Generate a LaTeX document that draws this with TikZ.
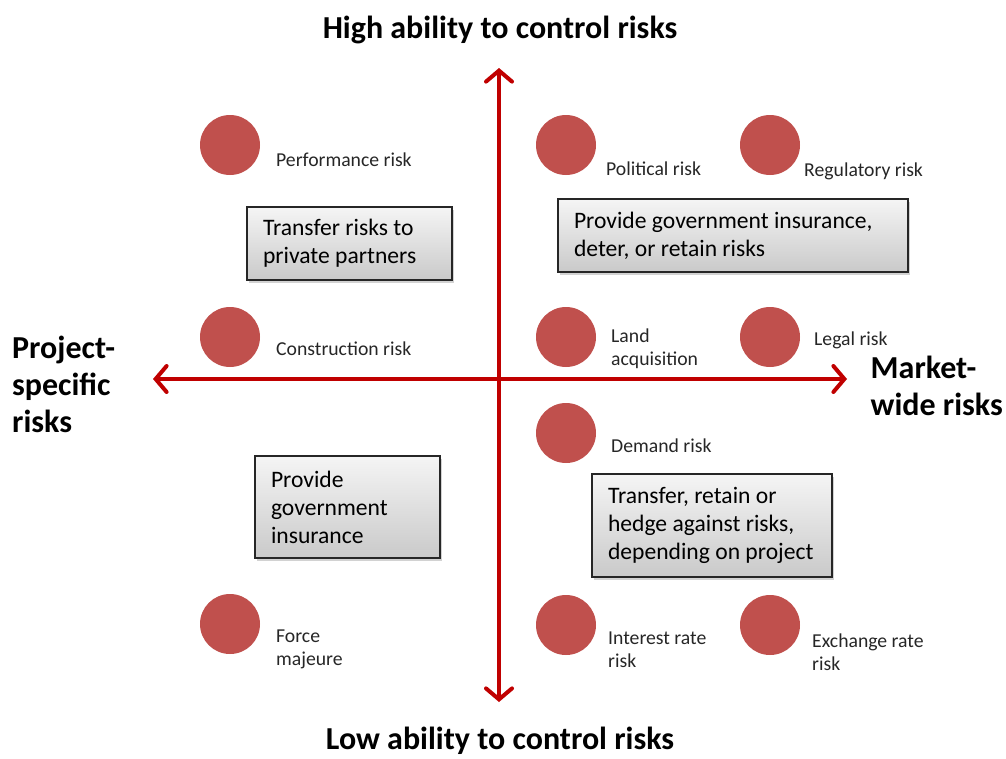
\documentclass[tikz,border=0pt]{standalone}
\usepackage{fontspec}
\setmainfont{Carlito}
\usetikzlibrary{arrows.meta,shadows,positioning}
\definecolor{AxisRed}{RGB}{192,0,0}
\definecolor{DotRed}{RGB}{192,80,77}
\definecolor{LabelGray}{RGB}{38,38,38}

\begin{document}
\begin{tikzpicture}[x=1pt, y=-1pt,
	dot/.style={circle, fill=DotRed, minimum size=60pt, inner sep=0pt},
	risklabel/.style={anchor=base west, inner sep=0pt, align=left, text=LabelGray, font=\fontsize{19.7}{23}\selectfont},
	strategy/.style={draw=black!85, line width=1.5pt, top color=gray!8, bottom color=gray!42,
		drop shadow={shadow xshift=2pt, shadow yshift=-3pt, fill=gray!70, opacity=0.5},
		align=flush left, inner xsep=16pt, inner ysep=0pt, font=\fontsize{23.6}{28}\selectfont},
	heading/.style={font=\bfseries\fontsize{32}{37}\selectfont, inner sep=0pt, align=left},
	axis/.style={AxisRed, line width=4pt, {Straight Barb[length=11pt, width=26pt, line cap=round]}-{Straight Barb[length=11pt, width=26pt, line cap=round]}}
	]
	\useasboundingbox (0,0) rectangle (1006,758);

	% axes
	\coordinate (ytop) at (499,68);
	\coordinate (ybot) at (499,702);
	\coordinate (xleft) at (153,379);
	\coordinate (xright) at (847,379);
	\draw[axis] (ybot) -- (ytop);
	\draw[axis] (xleft) -- (xright);

	% headings (multi-line: base is the last line)
	\node[heading, anchor=base] (high) at (500,38) {High ability to control risks};
	\node[heading, anchor=base] (low) at (500,749) {Low ability to control risks};
	\node[heading, anchor=base west] (project) at (12,432) {Project-\\specific\\risks};
	\node[heading, anchor=base east] (market) at (1003,415) {Market-\\wide risks};

	% risks
	\node[dot] (perf) at (230,145) {};
	\node[risklabel] (perflabel) at (276,166) {Performance risk};
	\node[dot] (polit) at (566,145) {};
	\node[risklabel] (politlabel) at (606,175) {Political risk};
	\node[dot] (regul) at (770,145) {};
	\node[risklabel] (regullabel) at (804,176) {Regulatory risk};
	\node[dot] (constr) at (230,337) {};
	\node[risklabel] (constrlabel) at (276,355) {Construction risk};
	\node[dot] (land) at (566,337) {};
	\node[risklabel] (landlabel) at (611,365) {Land\\acquisition};
	\node[dot] (legal) at (770,337) {};
	\node[risklabel] (legallabel) at (814,345) {Legal risk};
	\node[dot] (demand) at (566,433) {};
	\node[risklabel] (demandlabel) at (611,452) {Demand risk};
	\node[dot] (force) at (230,624) {};
	\node[risklabel] (forcelabel) at (276,665) {Force\\majeure};
	\node[dot] (inter) at (566,625) {};
	\node[risklabel] (interlabel) at (608,667) {Interest rate\\risk};
	\node[dot] (exch) at (770,625) {};
	\node[risklabel] (exchlabel) at (812,670) {Exchange rate\\risk};

	% strategies
	\node[strategy, minimum width=205pt, minimum height=73pt, text width=173pt] (transfer) at (349.5,243.5)
		{Transfer risks to\\private partners};
	\node[strategy, minimum width=350pt, minimum height=73pt, text width=318pt] (deter) at (733,235.5)
		{Provide government insurance,\\deter, or retain risks};
	\node[strategy, minimum width=185pt, minimum height=102pt, text width=153pt] (insure) at (347.5,507)
		{Provide\\government\\insurance};
	\node[strategy, minimum width=240pt, minimum height=103pt, text width=208pt] (hedge) at (712,525.5)
		{Transfer, retain or\\hedge against risks,\\depending on project};
\end{tikzpicture}
\end{document}
